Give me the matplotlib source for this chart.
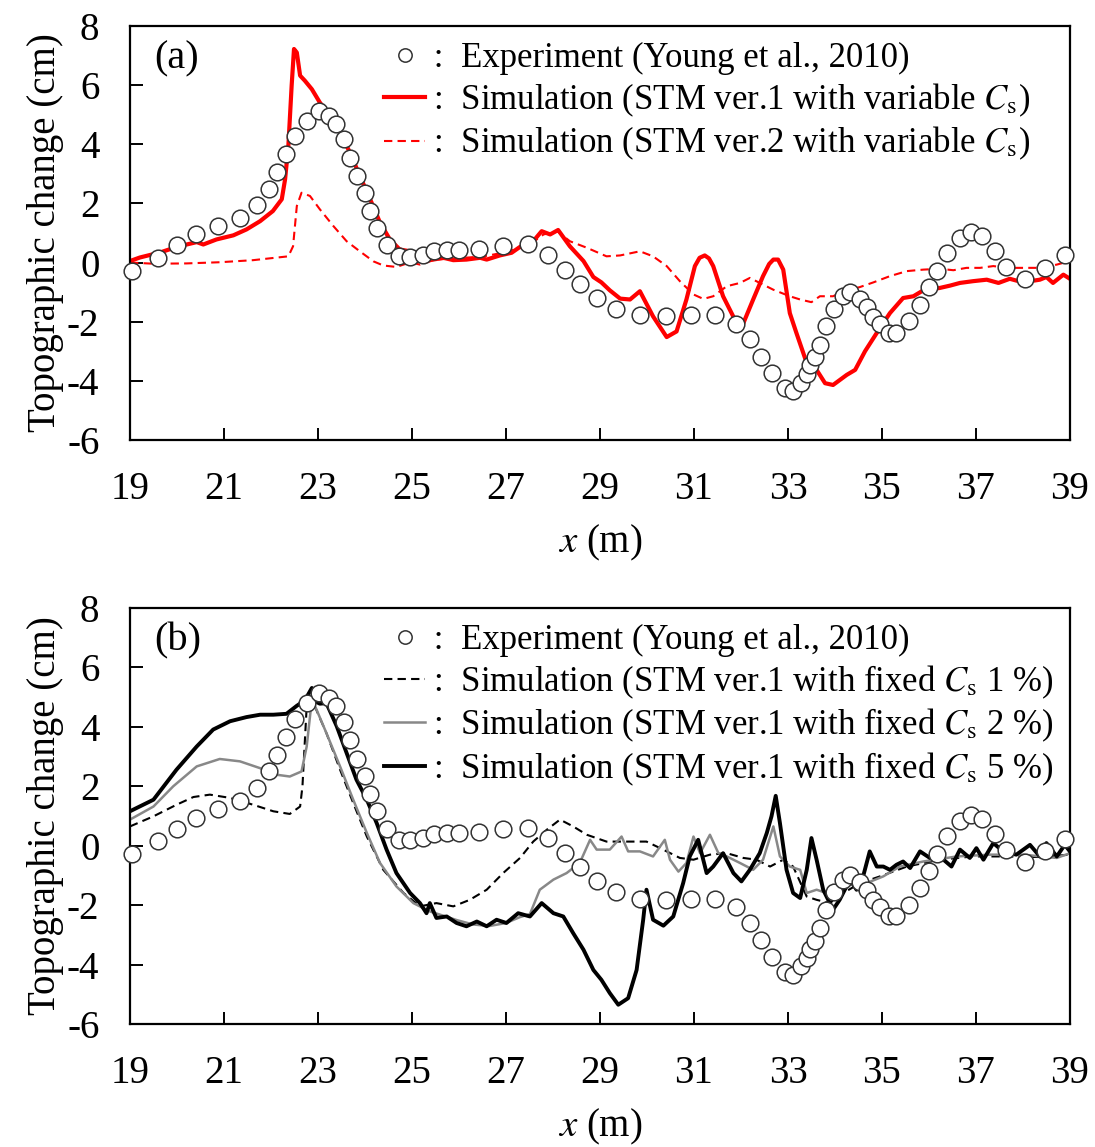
import matplotlib

matplotlib.use("Agg")
import matplotlib.pyplot as plt

plt.rcParams["font.family"] = ["Liberation Serif", "Noto Sans CJK JP"]
plt.rcParams["mathtext.fontset"] = "stix"
plt.rcParams["axes.unicode_minus"] = False

# Experiment (Young et al., 2010) - same in both panels
exp_x = [19.04, 19.6, 19.99, 20.4, 20.88, 21.34, 21.7, 21.96, 22.12, 22.33,
         22.52, 22.76, 23.03, 23.24, 23.38, 23.55, 23.68, 23.82, 24.0, 24.11,
         24.26, 24.46, 24.73, 24.96, 25.24, 25.47, 25.74, 26.01, 26.42, 26.93,
         27.46, 27.9, 28.26, 28.57, 28.93, 29.34, 29.85, 30.4, 30.93, 31.45,
         31.89, 32.19, 32.42, 32.67, 32.94, 33.1, 33.27, 33.4, 33.48, 33.57,
         33.68, 33.81, 33.98, 34.18, 34.32, 34.53, 34.69, 34.82, 34.96, 35.16,
         35.3, 35.58, 35.81, 36.0, 36.18, 36.38, 36.66, 36.89, 37.12, 37.4,
         37.65, 38.04, 38.48, 38.89]
exp_y = [-0.29, 0.16, 0.58, 0.95, 1.23, 1.49, 1.93, 2.5, 3.06, 3.66,
         4.28, 4.79, 5.13, 4.96, 4.7, 4.17, 3.55, 2.93, 2.36, 1.74,
         1.18, 0.58, 0.21, 0.19, 0.27, 0.4, 0.42, 0.42, 0.46, 0.55,
         0.61, 0.27, -0.24, -0.72, -1.2, -1.57, -1.79, -1.82, -1.79, -1.79,
         -2.07, -2.59, -3.18, -3.74, -4.25, -4.34, -4.06, -3.77, -3.46, -3.2,
         -2.78, -2.16, -1.57, -1.14, -1.0, -1.23, -1.5, -1.84, -2.07, -2.38,
         -2.38, -1.99, -1.42, -0.84, -0.27, 0.33, 0.84, 1.04, 0.89, 0.38,
         -0.15, -0.54, -0.18, 0.24]

# (a) STM ver.1 with variable Cs
var1_x = [19.0, 19.21, 19.64, 20.02, 20.42, 20.56, 20.84, 21.2, 21.48, 21.77,
          22.04, 22.23, 22.3, 22.37, 22.44, 22.49, 22.55, 22.62, 22.72, 22.87,
          23.04, 23.26, 23.47, 23.68, 23.89, 24.11, 24.32, 24.53, 24.74, 24.96,
          25.17, 25.45, 25.67, 25.88, 26.16, 26.45, 26.59, 26.87, 27.12, 27.3,
          27.58, 27.76, 27.94, 28.11, 28.36, 28.65, 28.86, 29.03, 29.21, 29.43,
          29.64, 29.85, 30.13, 30.42, 30.63, 30.84, 31.02, 31.12, 31.23, 31.32,
          31.41, 31.62, 31.87, 32.01, 32.26, 32.47, 32.6, 32.69, 32.79, 32.9,
          33.04, 33.18, 33.4, 33.61, 33.79, 33.96, 34.25, 34.43, 34.64, 34.89,
          35.17, 35.45, 35.67, 35.88, 36.23, 36.45, 36.66, 36.94, 37.23, 37.48,
          37.72, 38.0, 38.36, 38.5, 38.64, 38.86, 39.0]
var1_y = [0.05, 0.17, 0.34, 0.54, 0.69, 0.61, 0.78, 0.92, 1.12, 1.4,
          1.74, 2.14, 2.81, 3.94, 5.98, 7.22, 7.1, 6.32, 6.15, 5.86,
          5.41, 4.96, 4.4, 3.72, 2.93, 2.14, 1.35, 0.78, 0.44, 0.38,
          0.13, 0.1, 0.16, 0.08, 0.1, 0.16, 0.1, 0.24, 0.33, 0.53,
          0.72, 1.06, 0.95, 1.1, 0.55, 0.05, -0.49, -0.67, -0.94, -1.22,
          -1.25, -0.97, -1.82, -2.52, -2.33, -1.25, -0.12, 0.16, 0.24, 0.14,
          -0.12, -1.14, -1.93, -2.21, -1.25, -0.46, -0.05, 0.1, 0.1, -0.24,
          -1.71, -2.38, -3.4, -3.63, -4.08, -4.14, -3.8, -3.63, -3.0, -2.38,
          -1.71, -1.2, -1.14, -0.94, -0.86, -0.78, -0.69, -0.63, -0.58, -0.69,
          -0.55, -0.67, -0.58, -0.49, -0.69, -0.41, -0.55]

# (a) STM ver.2 with variable Cs
var2_x = [19.0, 19.5, 20.2, 20.91, 21.62, 22.37, 22.47, 22.55, 22.65, 22.83,
          23.04, 23.33, 23.61, 23.89, 24.18, 24.39, 24.67, 24.82, 24.96, 25.17,
          25.5, 26.0, 26.5, 27.0, 27.5, 27.8, 28.1, 28.36, 28.72, 29.14,
          29.43, 29.85, 30.13, 30.42, 30.7, 30.99, 31.2, 31.41, 31.7, 31.98,
          32.19, 32.4, 32.69, 33.04, 33.26, 33.5, 33.68, 33.96, 34.25, 34.53,
          34.82, 35.17, 35.53, 35.88, 36.23, 36.52, 36.8, 37.09, 37.37, 37.65,
          38.0, 38.36, 38.72, 39.0]
var2_y = [0.0, -0.04, -0.03, 0.01, 0.08, 0.21, 0.55, 1.91, 2.36, 2.25,
          1.8, 1.23, 0.72, 0.38, 0.04, -0.1, -0.15, -0.07, 0.01, -0.07,
          0.1, 0.15, 0.2, 0.35, 0.6, 0.95, 1.05, 0.72, 0.5, 0.21,
          0.24, 0.38, 0.21, -0.12, -0.63, -1.08, -1.23, -1.14, -0.8, -0.69,
          -0.52, -0.69, -0.92, -1.14, -1.25, -1.34, -1.14, -1.14, -0.94, -0.83,
          -0.67, -0.46, -0.29, -0.24, -0.21, -0.26, -0.18, -0.18, -0.12, -0.18,
          -0.18, -0.18, -0.07, 0.05]

# (b) STM ver.1 with fixed Cs 1 %
fix1_x = [19.0, 19.5, 19.99, 20.35, 20.7, 21.13, 21.62, 22.05, 22.4, 22.62,
          22.67, 22.76, 22.87, 23.01, 23.18, 23.47, 23.75, 24.04, 24.39, 24.82,
          25.17, 25.52, 25.88, 26.23, 26.59, 26.94, 27.3, 27.58, 27.87, 28.15,
          28.43, 28.72, 29.14, 29.57, 29.99, 30.28, 30.7, 30.99, 31.34, 31.7,
          32.05, 32.33, 32.62, 32.9, 33.11, 33.4, 33.61, 33.89, 34.18, 34.53,
          34.96, 35.53, 36.23, 36.94, 37.65, 38.36, 39.0]
fix1_y = [0.65, 0.99, 1.38, 1.64, 1.72, 1.61, 1.38, 1.16, 1.07, 1.32,
          2.0, 4.69, 4.92, 4.41, 3.79, 2.56, 1.44, 0.31, -0.81, -1.59,
          -2.04, -1.93, -2.04, -1.82, -1.48, -0.92, -0.41, 0.14, 0.54, 0.88,
          0.65, 0.37, 0.14, 0.14, 0.14, -0.08, -0.41, -0.47, -0.3, -0.25,
          -0.41, -0.47, -0.7, -0.47, -0.7, -1.71, -1.82, -1.93, -1.59, -1.26,
          -1.03, -0.7, -0.47, -0.36, -0.36, -0.38, -0.3]

# (b) STM ver.1 with fixed Cs 2 %
fix2_x = [19.0, 19.5, 19.92, 20.42, 20.91, 21.34, 21.77, 22.12, 22.4, 22.65,
          22.76, 22.87, 22.97, 23.18, 23.47, 23.75, 24.04, 24.32, 24.67, 25.03,
          25.38, 25.6, 25.95, 26.3, 26.65, 27.0, 27.3, 27.51, 27.72, 28.01,
          28.29, 28.57, 28.79, 28.93, 29.21, 29.46, 29.6, 29.85, 30.13, 30.38,
          30.49, 30.67, 30.84, 30.99, 31.13, 31.34, 31.52, 31.7, 31.98, 32.26,
          32.47, 32.69, 32.83, 33.04, 33.26, 33.4, 33.61, 33.82, 34.1, 34.39,
          34.67, 35.03, 35.38, 35.88, 36.59, 37.3, 38.0, 38.72, 39.0]
fix2_y = [0.88, 1.32, 2.0, 2.67, 2.92, 2.84, 2.61, 2.39, 2.33, 2.5,
          3.34, 4.92, 4.58, 3.79, 2.67, 1.55, 0.43, -0.58, -1.37, -1.93,
          -2.21, -2.32, -2.5, -2.65, -2.7, -2.6, -2.4, -2.3, -1.48, -1.14,
          -0.92, -0.58, 0.2, -0.13, -0.13, 0.31, -0.19, -0.19, -0.36, 0.2,
          -0.47, -0.87, -0.58, 0.31, -0.25, 0.37, -0.25, -0.36, -0.58, -0.81,
          -0.47, 0.65, -0.36, -0.7, -0.81, -1.59, -1.48, -1.59, -1.48, -1.26,
          -1.26, -1.03, -0.7, -0.53, -0.36, -0.3, -0.3, -0.41, -0.25]

# (b) STM ver.1 with fixed Cs 5 %
fix5_x = [19.0, 19.5, 19.99, 20.42, 20.77, 21.13, 21.48, 21.77, 22.05, 22.33,
          22.55, 22.72, 22.87, 22.94, 23.04, 23.18, 23.4, 23.61, 23.82, 24.04,
          24.25, 24.46, 24.67, 24.96, 25.17, 25.31, 25.38, 25.52, 25.74, 25.95,
          26.16, 26.38, 26.59, 26.8, 27.01, 27.26, 27.51, 27.76, 28.01, 28.22,
          28.43, 28.65, 28.86, 29.03, 29.21, 29.39, 29.6, 29.78, 29.92, 29.99,
          30.13, 30.35, 30.56, 30.77, 30.91, 31.09, 31.27, 31.41, 31.62, 31.84,
          32.01, 32.19, 32.4, 32.55, 32.65, 32.74, 32.83, 32.97, 33.11, 33.26,
          33.4, 33.5, 33.61, 33.75, 33.96, 34.1, 34.32, 34.46, 34.6, 34.74,
          34.89, 35.03, 35.17, 35.31, 35.45, 35.6, 35.81, 36.02, 36.23, 36.48,
          36.66, 36.87, 37.01, 37.16, 37.37, 37.58, 37.86, 38.15, 38.36, 38.5,
          38.72, 38.89, 39.0]
fix5_y = [1.16, 1.55, 2.56, 3.34, 3.91, 4.19, 4.33, 4.41, 4.41, 4.44,
          4.71, 4.89, 5.31, 4.86, 4.78, 4.8, 4.02, 3.12, 2.22, 1.55,
          0.76, -0.13, -0.92, -1.59, -1.93, -2.27, -1.93, -2.43, -2.38, -2.6,
          -2.71, -2.55, -2.71, -2.49, -2.6, -2.27, -2.38, -1.93, -2.27, -2.38,
          -2.94, -3.5, -4.18, -4.51, -4.96, -5.35, -5.13, -4.18, -2.49, -1.48,
          -2.49, -2.69, -2.38, -1.26, -0.36, 0.2, -0.92, -0.7, -0.25, -0.92,
          -1.2, -0.81, -0.25, 0.43, 0.99, 1.68, 0.76, -0.81, -1.59, -1.76,
          -0.81, 0.26, -0.47, -1.48, -2.15, -1.82, -1.14, -1.48, -1.03, -0.19,
          -0.7, -0.7, -0.81, -0.64, -0.53, -0.75, -0.19, -0.41, -0.36, -0.7,
          -0.13, -0.41, -0.08, -0.47, 0.09, -0.19, -0.3, 0.03, -0.36, 0.09,
          -0.36, 0.03, -0.19]

x_ticks = [19, 21, 23, 25, 27, 29, 31, 33, 35, 37, 39]
y_ticks = [-6, -4, -2, 0, 2, 4, 6, 8]

exp_label = " :  Experiment (Young et al., 2010)"
a_labels = [" :  Simulation (STM ver.1 with variable $C_\\mathrm{s}$)",
            " :  Simulation (STM ver.2 with variable $C_\\mathrm{s}$)"]
b_labels = [" :  Simulation (STM ver.1 with fixed $C_\\mathrm{s}$ 1 %)",
            " :  Simulation (STM ver.1 with fixed $C_\\mathrm{s}$ 2 %)",
            " :  Simulation (STM ver.1 with fixed $C_\\mathrm{s}$ 5 %)"]

fig = plt.figure(figsize=(10.95, 11.47), dpi=100, facecolor="white")
ax_a = fig.add_axes([0.1187, 0.6164, 0.8584, 0.361])
ax_b = fig.add_axes([0.1187, 0.1072, 0.8584, 0.3627])


def style_axes(ax, tag):
    ax.set_xlim(19, 39)
    ax.set_ylim(-6, 8)
    ax.set_xticks(x_ticks)
    ax.set_yticks(y_ticks)
    ax.tick_params(direction="in", length=9, width=1.4, labelsize=28, pad=22)
    for sp in ax.spines.values():
        sp.set_linewidth(1.6)
    ax.set_xlabel("$x$ (m)", fontsize=28, labelpad=11)
    ax.set_ylabel("Topographic change (cm)", fontsize=28, labelpad=2)
    ax.text(0.026, 0.966, tag, transform=ax.transAxes, fontsize=29,
            va="top", ha="left")


def plot_exp(ax):
    ax.plot(exp_x, exp_y, linestyle="none", marker="o", markersize=12,
            markerfacecolor="white", markeredgecolor="#333333",
            markeredgewidth=1.1, zorder=5, clip_on=False, label=exp_label)


# panel (a)
plot_exp(ax_a)
ax_a.plot(var1_x, var1_y, color="#ff0000", lw=3.0, label=a_labels[0])
ax_a.plot(var2_x, var2_y, color="#ff0000", lw=1.5, dashes=(4, 2.5),
          label=a_labels[1])
style_axes(ax_a, "(a)")

# panel (b)
plot_exp(ax_b)
ax_b.plot(fix1_x, fix1_y, color="black", lw=1.5, dashes=(4, 2.5),
          label=b_labels[0])
ax_b.plot(fix2_x, fix2_y, color="#888888", lw=1.8, label=b_labels[1])
ax_b.plot(fix5_x, fix5_y, color="black", lw=2.8, label=b_labels[2])
style_axes(ax_b, "(b)")

for ax, top in ((ax_a, 0.961), (ax_b, 0.962)):
    ax.legend(loc="upper left", bbox_to_anchor=(0.27, top),
              frameon=False, fontsize=25, handlelength=1.2,
              handletextpad=0.0, labelspacing=0.18, borderpad=0,
              borderaxespad=0, markerscale=0.8)

fig.savefig("out.png", dpi=100, facecolor="white")
